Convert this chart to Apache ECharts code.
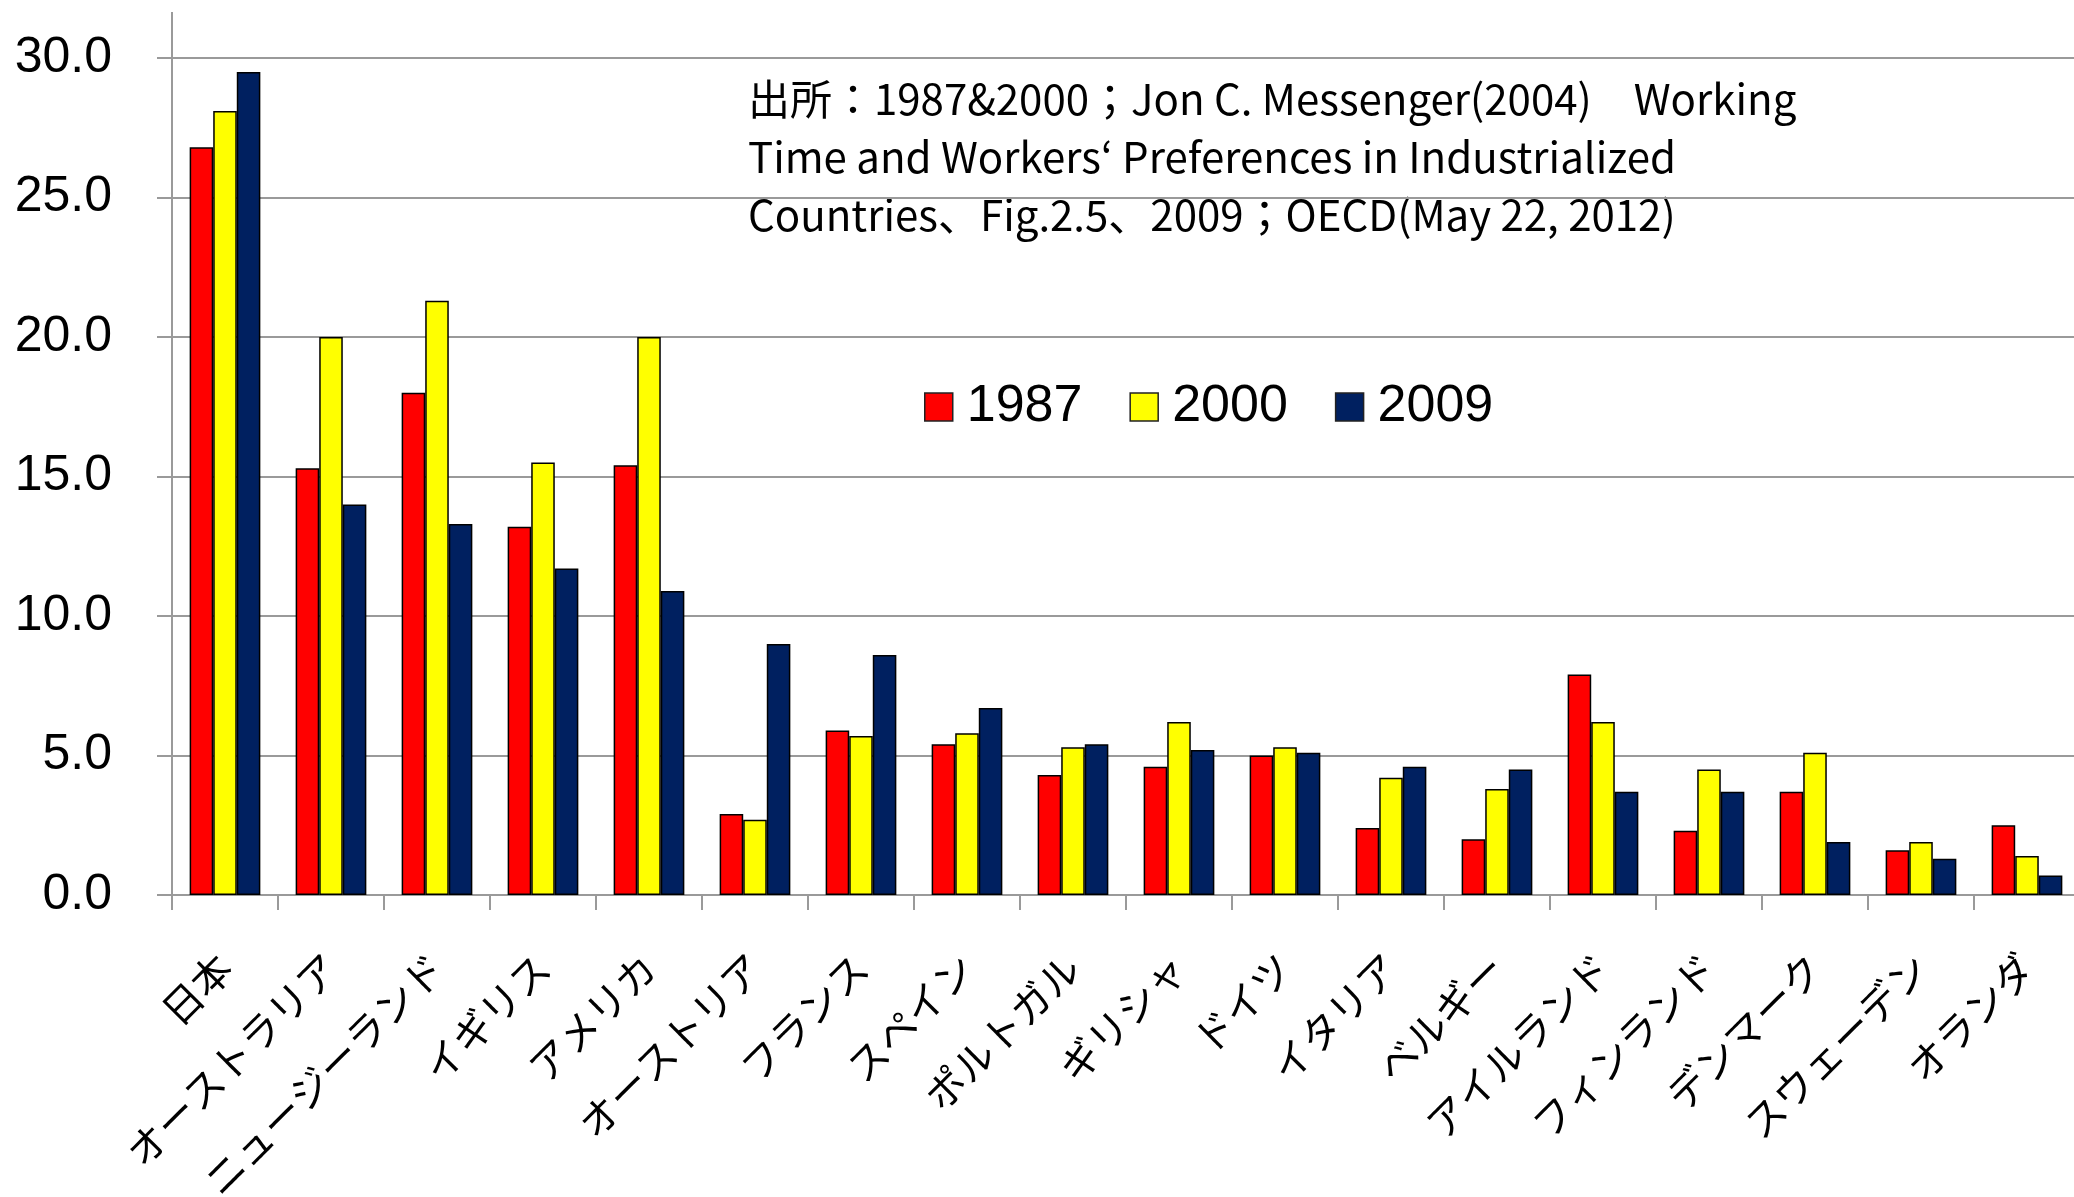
<!DOCTYPE html>
<html>
<head>
<meta charset="utf-8">
<style>
  html, body { margin: 0; padding: 0; background: #ffffff; overflow: hidden; }
  #chart { width: 2074px; height: 1197px; }
</style>
<script src="https://cdn.jsdelivr.net/npm/echarts@6/dist/echarts.min.js"></script>
</head>
<body>
<div id="chart"></div>
<script>
// Countries (x-axis categories)
const countries = ['日本', 'オーストラリア', 'ニュージーランド', 'イギリス', 'アメリカ', 'オーストリア',
  'フランス', 'スペイン', 'ポルトガル', 'ギリシャ', 'ドイツ', 'イタリア', 'ベルギー',
  'アイルランド', 'フィンランド', 'デンマーク', 'スウェーデン', 'オランダ'];

// Series names
const years = ['1987', '2000', '2009'];

// Values per year (%)
const values1987 = [26.8, 15.3, 18.0, 13.2, 15.4, 2.9, 5.9, 5.4, 4.3, 4.6, 5.0, 2.4, 2.0, 7.9, 2.3, 3.7, 1.6, 2.5];
const values2000 = [28.1, 20.0, 21.3, 15.5, 20.0, 2.7, 5.7, 5.8, 5.3, 6.2, 5.3, 4.2, 3.8, 6.2, 4.5, 5.1, 1.9, 1.4];
const values2009 = [29.5, 14.0, 13.3, 11.7, 10.9, 9.0, 8.6, 6.7, 5.4, 5.2, 5.1, 4.6, 4.5, 3.7, 3.7, 1.9, 1.3, 0.7];

// Source note
const sourceLines = [
  '出所：1987&2000；Jon C. Messenger(2004)　Working',
  'Time and Workers‘ Preferences in Industrialized',
  'Countries、Fig.2.5、2009；OECD(May 22, 2012)'
];

const seriesColors = ['#FF0000', '#FFFF00', '#002060'];
const gridColor = '#9a9a9a';
const jpFont = '"Noto Sans CJK JP", sans-serif';
const numFont = '"Liberation Sans", Arial, sans-serif';

const chart = echarts.init(document.getElementById('chart'), null, { renderer: 'canvas' });

const gridLeft = 172, gridTop = 58, gridBottom = 302;

function barSeries(name, data, color) {
  return {
    name: name,
    type: 'bar',
    data: data,
    barGap: '0%',
    barCategoryGap: '33.3%',
    itemStyle: { color: color, borderColor: '#000000', borderWidth: 1.5 },
    emphasis: { disabled: true }
  };
}

chart.setOption({
  backgroundColor: '#ffffff',
  animation: false,
  grid: {
    left: gridLeft, top: gridTop, bottom: gridBottom, width: 1908,
    containLabel: false,
    outerBoundsMode: 'none'
  },
  legend: {
    data: years,
    left: 924,
    top: 381,
    padding: 0,
    itemWidth: 28,
    itemHeight: 28,
    itemGap: 47,
    icon: 'rect',
    itemStyle: { borderColor: '#222222', borderWidth: 1.5 },
    textStyle: { fontFamily: numFont, fontSize: 52, color: '#000000', padding: [0, 0, 0, 9] }
  },
  xAxis: {
    type: 'category',
    data: countries,
    axisLine: { lineStyle: { color: gridColor, width: 2 } },
    axisTick: { show: true, length: 15, lineStyle: { color: gridColor, width: 2 } },
    axisLabel: {
      interval: 0,
      rotate: 45,
      margin: 66,
      fontFamily: jpFont,
      fontSize: 40,
      color: '#000000',
      hideOverlap: false
    }
  },
  yAxis: {
    type: 'value',
    min: 0,
    max: 30,
    interval: 5,
    axisLine: { show: true, lineStyle: { color: gridColor, width: 2 } },
    axisTick: { show: true, length: 15, lineStyle: { color: gridColor, width: 2 } },
    splitLine: { show: true, lineStyle: { color: gridColor, width: 2 } },
    axisLabel: {
      margin: 60,
      fontFamily: numFont,
      fontSize: 50,
      color: '#000000',
      formatter: v => v.toFixed(1)
    }
  },
  graphic: [
    {
      // vertical axis continues a little above the top gridline
      type: 'line',
      shape: { x1: gridLeft, y1: 12, x2: gridLeft, y2: gridTop },
      style: { stroke: gridColor, lineWidth: 2 },
      silent: true
    },
    {
      type: 'text',
      left: 748,
      top: 70,
      style: {
        text: sourceLines.join('\n'),
        font: '42px ' + jpFont,
        lineHeight: 58,
        fill: '#000000'
      },
      silent: true
    }
  ],
  series: [
    barSeries(years[0], values1987, seriesColors[0]),
    barSeries(years[1], values2000, seriesColors[1]),
    barSeries(years[2], values2009, seriesColors[2])
  ]
});
</script>
</body>
</html>
